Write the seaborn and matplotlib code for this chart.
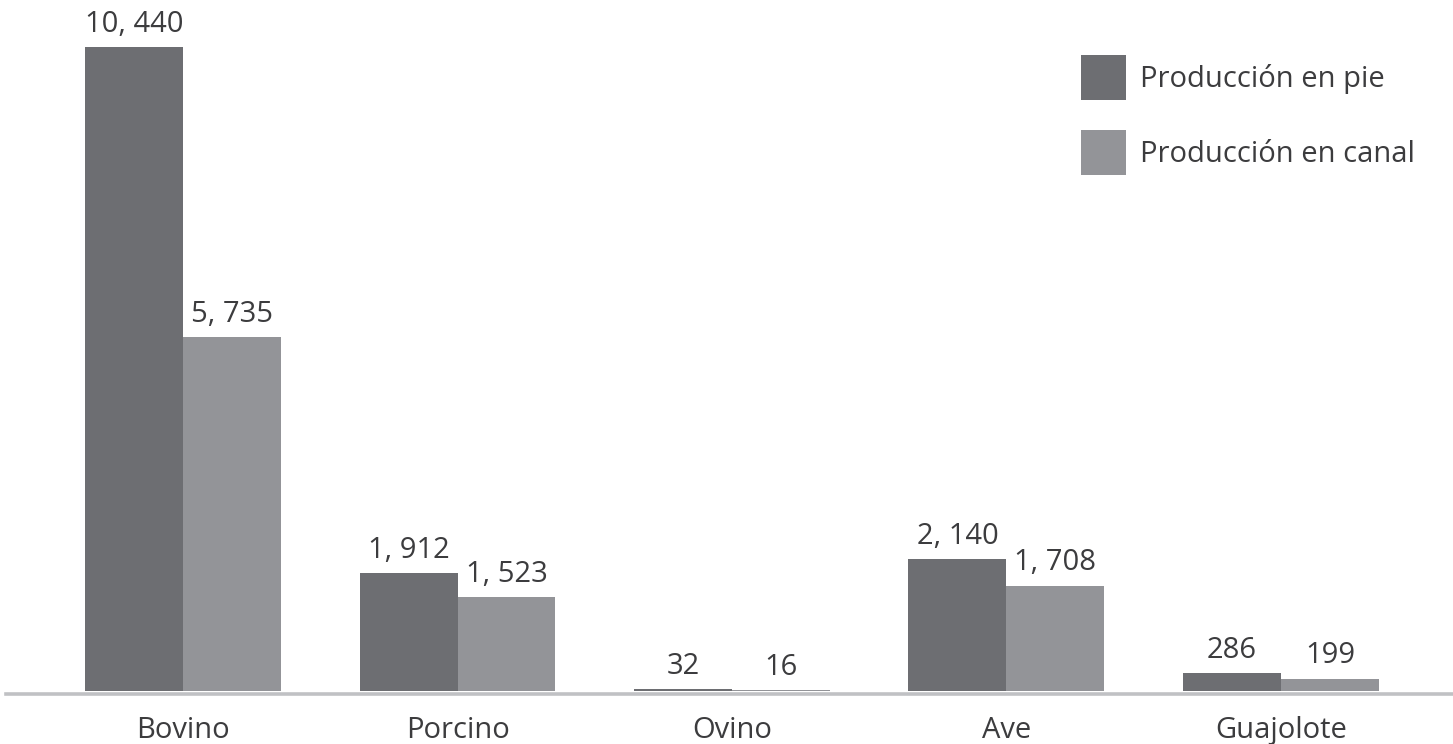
import pandas as pd
import matplotlib.pyplot as plt
import seaborn as sns

especies = ['Bovino', 'Porcino', 'Ovino', 'Ave', 'Guajolote']
en_pie = [10440, 1912, 32, 2140, 286]
en_canal = [5735, 1523, 16, 1708, 199]
series = ['Producción en pie', 'Producción en canal']

df = pd.DataFrame({
    'Especie': especies * 2,
    'Tipo': [series[0]] * len(especies) + [series[1]] * len(especies),
    'Valor': en_pie + en_canal,
})

sns.set_theme(style='white')
plt.rcParams['font.family'] = ['Open Sans', 'DejaVu Sans']
text_color = '#3c3c3e'
fs = 21

fig = plt.figure(figsize=(14.53, 7.44), dpi=100)
ax = fig.add_axes([6 / 1453, 50 / 744, 1447 / 1453, 694 / 744])

sns.barplot(data=df, x='Especie', y='Valor', hue='Tipo', order=especies,
            hue_order=series, palette=['#6d6e72', '#939498'],
            width=0.714, saturation=1, linewidth=0, ax=ax, legend=True)

for container in ax.containers:
    labels = [f'{int(b.get_height()):,}'.replace(',', ', ') for b in container]
    ax.bar_label(container, labels=labels, padding=6, fontsize=fs, color=text_color)

ax.set_xlim(-0.645, 4.627)
ax.set_ylim(-49, 11202)
ax.set_xlabel('')
ax.set_ylabel('')
ax.set_yticks([])
ax.tick_params(axis='x', length=0, pad=16, labelsize=fs, labelcolor=text_color)

for side in ['top', 'right', 'left']:
    ax.spines[side].set_visible(False)
ax.spines['bottom'].set_color('#c0c1c4')
ax.spines['bottom'].set_linewidth(2.6)

ax.legend(loc='upper left', bbox_to_anchor=(1081 / 1453, 1 - 55 / 744),
          bbox_transform=fig.transFigure, frameon=False, borderpad=0,
          borderaxespad=0, fontsize=fs, handlelength=1.54, handleheight=1.99,
          labelspacing=1.05, handletextpad=0.5, labelcolor=text_color)

fig.savefig('out.png', dpi=100)
